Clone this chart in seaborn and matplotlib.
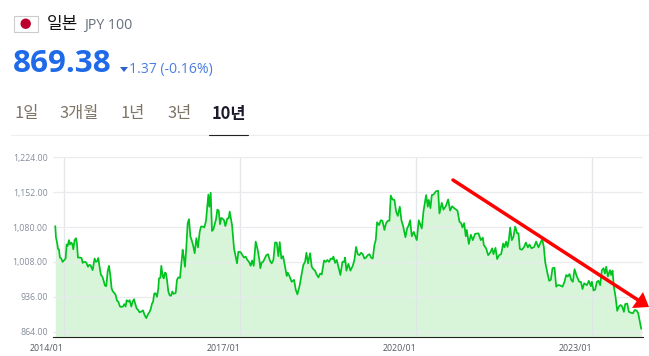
import numpy as np
import pandas as pd
import matplotlib
matplotlib.use("Agg")
import matplotlib.pyplot as plt
import matplotlib.dates as mdates
from matplotlib.lines import Line2D
from matplotlib.patches import Polygon, Rectangle
from matplotlib.transforms import Affine2D
import seaborn as sns

# observation numbers (about one every two days, counted from the start date)
START_DATE = "2013-11-08"
DAYS_PER_OBS = 2.075
obs_a = [0,2,6,8,11,14,18,22,26,31,34,37,41,44,48,51,54,58,62,65,68,72,75,79,82,86,91,94,98,102,106,112,118,122,126,129,133,137,141,145,149,153,157,161,165,169,173,177,181,185,189,194,198,203,207,211,214,219,223,228,232,236,240,244,248,253,257,263,268,273,278,282,286,290,293,297,301,305,309,311,315,318,322,325,329,332,335,339,343,347,351,355,361,365,369,374,378,382,385,389,393,397,401,405,409,413,418,423,428,433,437,443,447,452,456,459,462,466,470,474,479,482,486,490,494,498,502,506,510,516,520,523]
val_a = [1082,1059,1046,1035,1034,1017,1015,1008,1011,1015,1044,1041,1053,1044,1048,1045,1034,1053,1057,1046,1017,1017,1017,1016,1006,1008,1008,1005,998,1002,1001,991,1015,1008,1010,1016,997,981,978,969,959,958,988,1000,981,953,947,944,940,928,926,916,915,916,921,916,929,926,929,916,926,931,921,912,909,904,905,908,898,892,900,904,910,922,925,943,943,936,953,974,975,1000,979,974,986,984,971,947,939,938,947,942,944,971,976,975,1005,1033,1019,998,1039,1088,1096,1061,1053,1043,1026,1057,1038,1070,1081,1081,1079,1093,1125,1147,1122,1151,1072,1075,1088,1096,1116,1114,1086,1099,1097,1094,1082,1098,1098,1112]
obs_b = [530,536,541,545,549,556,561,566,571,576,581,586,590,595,601,607,612,615,619,623,628,633,638,644,649,654,659,664,669,673,678,683,688,694,697,702,709,716,721,726,733,739,744,749,753,758,764,769,774,779,783,789,794,799,806,811,816,821,826,831,834,839,844,849,855,861,866,869,873,879,885,892,897,902,907,912,917,922,927,932,937,942,947,952,957,961,965,971,976,981,987,992,997,1002,1006,1011,1017,1022,1027,1033,1038,1043,1050,1055,1060,1064,1069,1075,1084,1090,1099,1104,1112,1117,1120,1125]
val_b = [1084,1036,1019,1005,1029,1028,1022,1017,1019,1012,1008,1000,1011,1000,1050,1033,1012,995,1007,1008,1015,1022,1024,1010,1005,1012,1048,1048,1020,1049,1015,1020,1002,979,986,979,967,971,951,941,960,984,1002,1008,1027,1005,1026,998,993,990,983,976,984,982,1011,1008,1012,1008,1015,1014,1019,1006,1012,998,981,1008,1008,1017,990,1004,990,1000,1012,1039,1024,1022,1027,1024,1015,1017,1022,1024,1017,1015,1043,1053,1090,1084,1094,1093,1074,1088,1093,1093,1145,1137,1136,1112,1103,1122,1094,1082,1059,1077,1084,1094,1061,1070,1053,1094,1077,1112,1146,1122,1136,1119]
obs_c = [1129,1134,1142,1148,1152,1159,1164,1171,1178,1184,1190,1196,1206,1212,1217,1221,1226,1231,1234,1240,1246,1252,1259,1269,1276,1282,1285,1292,1298,1304,1310,1314,1320,1325,1331,1337,1343,1347,1352,1356,1360,1364,1369,1374,1379,1385,1389,1393,1399,1406,1411,1417,1422,1428,1436,1442,1449,1454,1460,1465,1469,1476,1481,1486,1491,1497,1502,1507,1512,1521,1527,1532,1537,1542,1547,1552,1557,1564,1571,1576,1581,1586,1594,1600,1606,1609,1614,1619,1624,1629,1634,1639,1644,1648,1652,1657,1663,1667,1671,1675,1680,1685,1690,1695,1700,1705,1709,1715,1720,1726,1732,1738,1744,1748,1752,1757]
val_c = [1146,1147,1154,1155,1108,1130,1116,1123,1137,1114,1123,1119,1114,1091,1088,1079,1088,1061,1074,1045,1064,1053,1066,1067,1053,1058,1043,1036,1022,1027,1036,1024,1037,1014,1022,1024,1046,1038,1050,1039,1053,1079,1053,1060,1081,1067,1067,1035,1033,1039,1048,1038,1044,1036,1039,1050,1038,1046,1055,1039,1008,984,969,971,995,996,957,960,960,957,967,981,978,983,971,967,993,978,967,967,952,964,960,969,958,967,949,951,967,969,960,991,995,984,998,978,991,981,990,957,936,907,916,919,916,905,921,922,905,903,902,909,907,902,888,870]

y_ticks = [864, 936, 1008, 1080, 1152, 1224]
x_ticks = ["2014-01-01", "2017-01-01", "2020-01-01", "2023-01-01"]
tabs = ["1일", "3개월", "1년", "3년", "10년"]

W, H = 649, 356
sns.set_theme(style="white")
plt.rcParams["font.family"] = ["Noto Sans CJK KR", "DejaVu Sans"]

obs = np.array(obs_a + obs_b + obs_c, dtype=float)
vals = np.array(val_a + val_b + val_c, dtype=float)
dates = pd.Timestamp(START_DATE) + pd.to_timedelta(obs * DAYS_PER_OBS, unit="D")
df = pd.DataFrame({"date": dates, "value": vals})

fig = plt.figure(figsize=(W / 100, H / 100), dpi=100, facecolor="white")
L, R, T, B = 52.7, 642.7, 157.3, 337.3
ax = fig.add_axes([L / W, 1 - B / H, (R - L) / W, (B - T) / H])

LINE = "#00c31f"
ax.fill_between(df["date"], df["value"], 800, color="#d9f5d9", lw=0, zorder=1)
sns.lineplot(data=df, x="date", y="value", ax=ax, color=LINE, lw=1.25,
             estimator=None, zorder=3)

ax.set_ylim(852.4, 1224)
ax.set_xlim(pd.Timestamp("2013-10-23"), pd.Timestamp("2023-11-11"))
ax.set_xlabel("")
ax.set_ylabel("")
ax.set_yticks(y_ticks)
ax.set_yticklabels([f"{v:,.2f}" for v in y_ticks])
ax.set_xticks([pd.Timestamp(d) for d in x_ticks])
ax.xaxis.set_major_formatter(mdates.DateFormatter("%Y/%m"))
ax.grid(True, axis="y", color="#e9ebee", lw=0.9, zorder=2)
ax.grid(True, axis="x", color="#dfe3e6", lw=1.0, alpha=0.8, zorder=2)
ax.set_axisbelow(False)
for s in ["top", "left", "right"]:
    ax.spines[s].set_visible(False)
ax.spines["bottom"].set_color("#222222")
ax.spines["bottom"].set_linewidth(0.8)
ax.tick_params(axis="y", length=0, pad=3.5, labelsize=6.3, labelcolor="#858c9a")
ax.tick_params(axis="x", length=3, width=0.8, color="#222222", pad=2,
               labelsize=6.4, labelcolor="#555a60")
for lab in ax.get_xticklabels():
    lab.set_ha("right")
for lab in ax.get_xticklabels() + ax.get_yticklabels():
    lab.set_family(["Open Sans", "DejaVu Sans"])

px = Affine2D().scale(1 / W, -1 / H).translate(0, 1) + fig.transFigure

def put(x, y, s, **kw):
    kw.setdefault("va", "center")
    kw.setdefault("transform", px)
    fig.text(x, y, s, **kw)

# header
fig.add_artist(Rectangle((13.5, 15.5), 24, 16, transform=px, fc="white", ec="#cccccc", lw=0.8))
fig.add_artist(Polygon([(25.7 + 5.2 * np.cos(t), 23.7 + 5.2 * np.sin(t)) for t in np.linspace(0, 2 * np.pi, 40)],
    closed=True, transform=px, fc="#bc002d", ec="none"))
put(47, 24.5, "일본", fontsize=12.2, color="#111111", fontweight="medium")
put(84, 25.5, "JPY 100", fontsize=10.2, color="#666f7a", family=["Open Sans", "DejaVu Sans"])
put(13, 63.5, "869.38", fontsize=22.6, color="#1f6ae8", fontweight="bold", family=["Open Sans", "DejaVu Sans"])
fig.add_artist(Polygon([(120, 67), (128, 67), (124, 72)], closed=True, transform=px, fc="#2a62c8", ec="none"))
put(129, 69.5, "1.37 (-0.16%)", fontsize=10.1, color="#4a7ddf", family=["Open Sans", "DejaVu Sans"])

tab_x = [15, 60, 121, 167, 212]
for x, t in zip(tab_x, tabs):
    bold = t == "10년"
    put(x, 113.5, t, fontsize=11.8, color="#1a1a2a" if bold else "#7d7466",
        fontweight="bold" if bold else "normal")
fig.add_artist(Line2D([11, 649], [134.5, 134.5], transform=px, color="#eeeeee", lw=0.8))
fig.add_artist(Line2D([209, 248], [134.5, 134.5], transform=px, color="#222222", lw=0.8))

# red arrow
fig.add_artist(Line2D([453, 638], [180, 300], transform=px, color="#ff0000", lw=2.5, solid_capstyle="round"))
fig.add_artist(Polygon([(632, 308), (643, 292), (649, 307)], closed=True, transform=px, fc="#ff0000", ec="none"))

fig.savefig("out.png", dpi=100)
